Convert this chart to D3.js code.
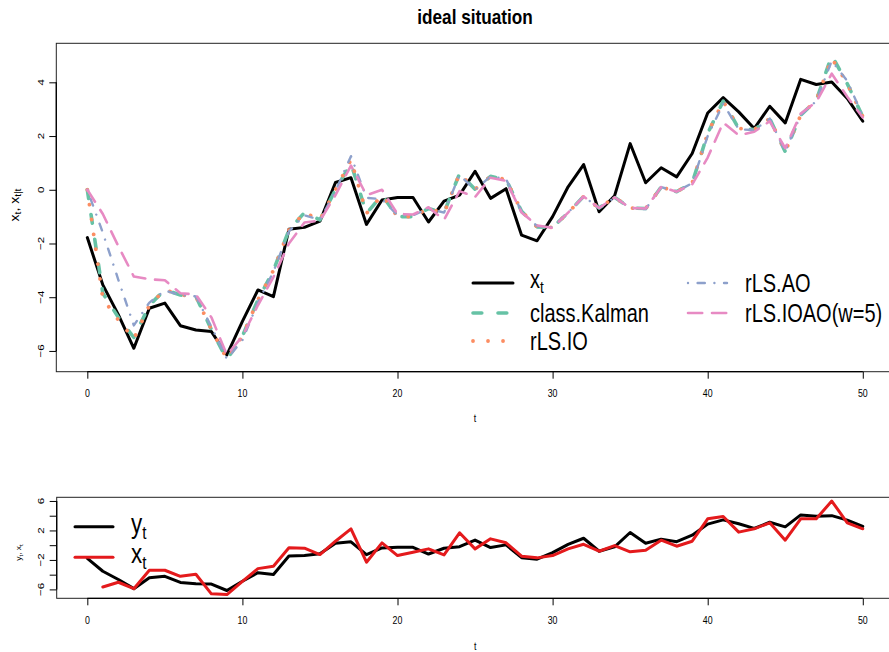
<!DOCTYPE html>
<html>
<head>
<meta charset="utf-8">
<script src="https://cdn.jsdelivr.net/npm/d3@7"></script>
<style>
  body { margin: 0; background: #fff; }
  svg { display: block; }
  text { font-family: "Liberation Sans", Arial, Helvetica, sans-serif; fill: #000; }
</style>
</head>
<body>
<svg id="chart" width="889" height="652"></svg>
<script>
// ---- data -------------------------------------------------------------
const timeIdx = d3.range(0, 51);

// true state x_t
const xTrue = [-1.78,-3.54,-4.65,-5.9,-4.41,-4.22,-5.06,-5.22,-5.28,-6.15,
  -4.9,-3.73,-3.98,-1.47,-1.4,-1.17,0.27,0.45,-1.29,-0.38,
  -0.29,-0.29,-1.2,-0.42,-0.2,0.69,-0.32,0.04,-1.69,-1.9,
  -1.0,0.11,0.94,-0.82,-0.22,1.72,0.26,0.82,0.48,1.35,
  2.86,3.43,2.9,2.28,3.11,2.49,4.11,3.92,4.01,3.4,2.55];

// filtered states x_t|t
const classKalman = [0.0,-3.85,-4.75,-5.5,-4.3,-3.72,-3.92,-3.97,-5.2,-6.32,
  -5.45,-4.1,-3.0,-1.5,-0.85,-1.12,0.0,0.98,-0.88,-0.2,
  -1.0,-1.0,-0.7,-0.85,0.6,0.02,0.5,0.38,-0.8,-1.38,
  -1.4,-0.85,-0.25,-0.68,-0.28,-0.68,-0.7,0.1,-0.07,0.25,
  2.1,3.3,2.28,2.24,2.65,1.42,2.78,3.33,5.0,3.95,2.72];

const rLSIO = [0.0,-4.05,-4.85,-5.55,-4.3,-3.72,-3.92,-3.97,-5.2,-6.3,
  -5.45,-4.1,-3.0,-1.5,-0.85,-1.12,0.0,1.12,-0.88,-0.2,
  -1.0,-1.0,-0.7,-0.88,0.6,0.02,0.5,0.38,-0.8,-1.38,
  -1.4,-0.85,-0.25,-0.68,-0.28,-0.68,-0.7,0.1,-0.07,0.25,
  2.1,3.3,2.28,2.24,2.65,1.42,2.78,3.33,4.9,3.95,2.72];

const rLSAO = [0.0,-1.6,-3.35,-5.05,-4.2,-3.75,-3.92,-3.97,-5.1,-6.3,
  -5.6,-4.2,-3.05,-1.55,-0.95,-1.12,-0.05,1.25,-0.3,-0.35,
  -0.95,-0.95,-0.7,-0.85,0.55,0.0,0.5,0.4,-0.82,-1.35,
  -1.4,-0.85,-0.25,-0.68,-0.28,-0.68,-0.72,0.1,-0.07,0.25,
  2.0,3.2,2.25,2.22,2.65,1.42,2.78,3.3,4.8,4.05,2.75];

const rLSIOAO = [0.0,-0.9,-2.1,-3.23,-3.33,-3.37,-3.85,-3.9,-4.75,-6.15,
  -5.45,-4.3,-3.25,-2.0,-1.22,-1.15,-0.2,0.9,-0.2,0.0,
  -0.9,-0.92,-0.65,-1.12,-0.05,-0.27,0.45,0.33,-0.85,-1.33,
  -1.42,-0.85,-0.25,-0.68,-0.28,-0.68,-0.7,0.1,-0.07,0.2,
  1.2,2.5,2.03,2.16,2.55,1.55,2.84,3.27,4.32,3.46,2.69];

// observations (no value at t = 0)
const yObs = [null,-5.67,-5.03,-5.9,-3.4,-3.4,-4.22,-3.95,-6.6,-6.7,
  -4.9,-3.18,-2.86,-0.36,-0.41,-1.27,0.54,2.22,-2.31,0.32,
  -1.41,-0.95,-0.5,-1.32,1.68,-0.5,0.86,0.32,-1.5,-1.72,
  -1.41,-0.5,0.12,-0.82,-0.05,-0.9,-0.68,0.68,-0.14,0.54,
  3.58,3.9,1.77,2.22,3.04,0.68,3.58,3.58,5.99,3.04,2.22];

const xTicks = [0, 10, 20, 30, 40, 50];
const topYTicks = [-6, -4, -2, 0, 2, 4];
const lowYTicks = [-6, -4, -2, 0, 2, 4, 6];
const lowYLabelled = [-6, -2, 2, 6];

const titleText = "ideal situation";
const legendTop = ["x_t", "class.Kalman", "rLS.IO", "rLS.AO", "rLS.IOAO(w=5)"];

// ---- styles -----------------------------------------------------------
const styleTrue   = { color: "#000000", width: 3,   dash: null };
const styleFilter = [
  { color: "#66C2A5", width: 3.6, dash: "8.8,16.2" },        // dashed
  { color: "#FC8D62", width: 3.8, dash: "0.01,15" },         // dotted
  { color: "#8DA0CB", width: 2.4, dash: "0.01,9.6,7.2,9.6" },// dot-dash
  { color: "#E78AC3", width: 2.6, dash: "14.2,9.8" }         // long dash
];
const styleObs = { color: "#E41A1C", width: 3, dash: null };

const FONT_SX = 0.8;      // glyph aspect of the device

// ---- helpers ----------------------------------------------------------
const svg = d3.select("#chart");
const rPad = ext => { const d = (ext[1] - ext[0]) * 0.04; return [ext[0] - d, ext[1] + d]; };
const fmt = v => (v < 0 ? "\u2212" + Math.abs(v) : String(v));

// parts: strings, or {s, sub:true}
function addText(parent, x, y, parts, size, opt = {}) {
  const sx = opt.sx ?? FONT_SX;
  const tr = opt.rotate
    ? `translate(${x},${y}) rotate(-90) scale(1,${sx})`
    : `translate(${x},${y}) scale(${sx},1)`;
  const el = parent.append("text")
    .attr("transform", tr)
    .attr("text-anchor", opt.anchor || "start")
    .style("font-size", size + "px")
    .style("font-weight", opt.weight || "normal");
  let cur = 0;
  const subScale = opt.subScale ?? 0.7;
  const subOff = opt.subOff ?? size * 0.2;
  (Array.isArray(parts) ? parts : [parts]).forEach(p => {
    const isSub = typeof p === "object" && p.sub;
    const s = typeof p === "object" ? p.s : p;
    const target = isSub ? subOff : 0;
    el.append("tspan")
      .attr("dy", target - cur)
      .style("font-size", (isSub ? size * subScale : size) + "px")
      .text(s);
    cur = target;
  });
  return el;
}

function drawLine(g, values, xs, ys, st) {
  const line = d3.line()
    .defined(d => d != null)
    .x((d, i) => xs(timeIdx[i]))
    .y(d => ys(d));
  g.append("path")
    .datum(values)
    .attr("d", line)
    .attr("fill", "none")
    .attr("stroke", st.color)
    .attr("stroke-width", st.width)
    .attr("stroke-linecap", "round")
    .attr("stroke-linejoin", "round")
    .attr("stroke-dasharray", st.dash);
}

function legendSample(g, x1, x2, y, st) {
  g.append("line")
    .attr("x1", x1).attr("x2", x2).attr("y1", y).attr("y2", y)
    .attr("stroke", st.color)
    .attr("stroke-width", st.width)
    .attr("stroke-linecap", "round")
    .attr("stroke-dasharray", st.dash);
}

// shared x axis geometry (0..50 padded by 4%)
const xScale = d3.scaleLinear().domain(rPad(d3.extent(timeIdx))).range([56.3, 893.8]);

function frame(g, ys, box, yTicks, yLabelled, xLabY, tLabY) {
  // box
  g.append("rect")
    .attr("x", box.left).attr("y", box.top)
    .attr("width", box.right - box.left).attr("height", box.bottom - box.top)
    .attr("fill", "none").attr("stroke", "#222").attr("stroke-width", 1);

  // x axis (ticks and line from first to last tick)
  const xAxis = d3.axisBottom(xScale).tickValues(xTicks).tickSize(7).tickSizeOuter(0)
    .tickFormat(d3.format("d"));
  const ax = g.append("g").attr("transform", `translate(0,${box.bottom})`).call(xAxis);
  ax.select(".domain").remove();
  ax.selectAll(".tick line").attr("stroke", "#000").attr("stroke-width", 1);
  ax.selectAll(".tick text").remove();
  g.append("line")
    .attr("x1", xScale(xTicks[0])).attr("x2", xScale(xTicks[xTicks.length - 1]))
    .attr("y1", box.bottom).attr("y2", box.bottom)
    .attr("stroke", "#000").attr("stroke-width", 1.3);
  xTicks.forEach(v => addText(g, xScale(v), xLabY, String(v), 11, { anchor: "middle" }));
  addText(g, (box.left + box.right) / 2, tLabY, "t", 11, { anchor: "middle" });

  // y axis
  const yAxis = d3.axisLeft(ys).tickValues(yTicks).tickSize(7).tickSizeOuter(0).tickFormat("");
  const ay = g.append("g").attr("transform", `translate(${box.left},0)`).call(yAxis);
  ay.select(".domain").remove();
  ay.selectAll(".tick line").attr("stroke", "#000").attr("stroke-width", 1);
  g.append("line")
    .attr("x1", box.left).attr("x2", box.left)
    .attr("y1", ys(yTicks[0])).attr("y2", ys(yTicks[yTicks.length - 1]))
    .attr("stroke", "#000").attr("stroke-width", 1.3);
  yLabelled.forEach(v => addText(g, 43.5, ys(v), fmt(v), 11.5, { anchor: "middle", rotate: true, sx: 0.85 }));
}

// ---- top panel: states and filters -----------------------------------
const topBox = { left: 56.3, right: 893.8, top: 43.3, bottom: 371.7 };
const topAll = [xTrue, classKalman, rLSIO, rLSAO, rLSIOAO].flat();
const yTop = d3.scaleLinear().domain(rPad(d3.extent(topAll))).range([topBox.bottom, topBox.top]);

const gTop = svg.append("g");
frame(gTop, yTop, topBox, topYTicks, topYTicks, 397, 422);

addText(svg, (topBox.left + topBox.right) / 2, 24, titleText, 20, { anchor: "middle", weight: "bold", sx: 0.86 });
addText(svg, 18.5, 205, ["x", { s: "t", sub: true }, ",  x", { s: "t|t", sub: true }], 14,
  { anchor: "middle", rotate: true, sx: 0.9, subScale: 0.72, subOff: 3 });

drawLine(gTop, xTrue, xScale, yTop, styleTrue);
[classKalman, rLSIO, rLSAO, rLSIOAO].forEach((s, i) => drawLine(gTop, s, xScale, yTop, styleFilter[i]));

// legend
const legG = svg.append("g");
const legRows = [283, 313, 341];
legendSample(legG, 473, 513, legRows[0], styleTrue);
addText(legG, 530, legRows[0] + 5, ["x", { s: "t", sub: true }], 25, { subScale: 0.68, subOff: 4.7 });
legendSample(legG, 473, 513, legRows[1], styleFilter[0]);
addText(legG, 530, legRows[1] + 9, legendTop[1], 25);
legendSample(legG, 473, 513, legRows[2], styleFilter[1]);
addText(legG, 530, legRows[2] + 9, legendTop[2], 25);
legendSample(legG, 688, 727, legRows[0], styleFilter[2]);
addText(legG, 745, legRows[0] + 9, legendTop[3], 25);
legendSample(legG, 688, 727, legRows[1], styleFilter[3]);
addText(legG, 745, legRows[1] + 9, legendTop[4], 25);

// ---- bottom panel: state vs observations ------------------------------
const lowBox = { left: 56.7, right: 893.8, top: 497.3, bottom: 598.3 };
const lowAll = [xTrue, yObs].flat().filter(v => v != null);
const yLow = d3.scaleLinear().domain(rPad(d3.extent(lowAll))).range([lowBox.bottom, lowBox.top]);

const gLow = svg.append("g");
frame(gLow, yLow, lowBox, lowYTicks, lowYLabelled, 624, 649.5);
addText(svg, 21, 552.5, ["y", { s: "t", sub: true }, ",  x", { s: "t", sub: true }], 8.5,
  { anchor: "middle", rotate: true, sx: 0.9, subScale: 0.72, subOff: 2 });

drawLine(gLow, xTrue, xScale, yLow, styleTrue);
drawLine(gLow, yObs, xScale, yLow, styleObs);

const legLow = svg.append("g");
legendSample(legLow, 75, 113, 526.7, styleTrue);
addText(legLow, 131, 533, ["y", { s: "t", sub: true }], 28, { subScale: 0.68, subOff: 5.5 });
legendSample(legLow, 75, 113, 557.3, styleObs);
addText(legLow, 131, 563, ["x", { s: "t", sub: true }], 28, { subScale: 0.68, subOff: 5.5 });
</script>
</body>
</html>
